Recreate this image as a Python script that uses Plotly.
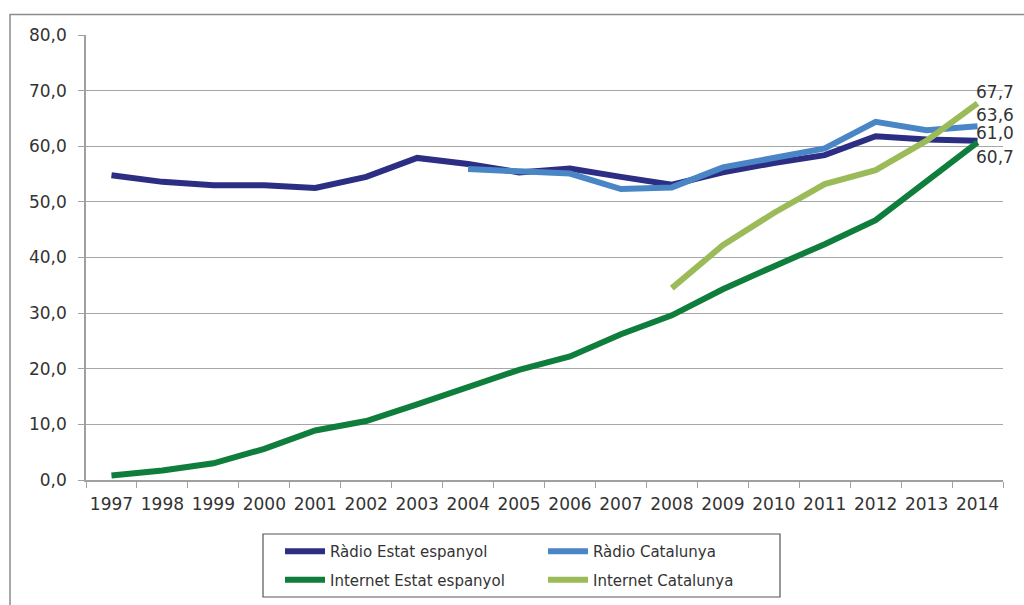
import plotly.graph_objects as go

years = [str(y) for y in range(1997, 2015)]

radio_estat = [54.8, 53.6, 53.0, 53.0, 52.5, 54.5, 57.9, 56.8, 55.3, 56.0, 54.5, 53.1, 55.3, 57.0, 58.4, 61.8, 61.2, 61.0]
radio_cat = [None, None, None, None, None, None, None, 55.9, 55.4, 55.1, 52.3, 52.6, 56.2, 57.8, 59.6, 64.4, 62.9, 63.6]
internet_estat = [0.8, 1.7, 3.0, 5.6, 8.9, 10.6, 13.6, 16.8, 19.8, 22.2, 26.2, 29.6, 34.3, 38.4, 42.4, 46.7, 53.8, 60.7]
internet_cat = [None, None, None, None, None, None, None, None, None, None, None, 34.5, 42.2, 48.0, 53.2, 55.7, 61.0, 67.7]

series_names = ["Ràdio Estat espanyol", "Ràdio Catalunya", "Internet Estat espanyol", "Internet Catalunya"]
series_values = [radio_estat, radio_cat, internet_estat, internet_cat]
colors = ["#2B2E83", "#4A86C5", "#0F7D3B", "#9BBB59"]
legend_ids = ["legend", "legend2", "legend", "legend2"]
label_shift = [8, 11, -15, 11]

W, H = 1024, 605
L, R, T, B = 86, 21, 35, 125
PW, PH = W - L - R, H - T - B

def px_x(px):
    return (px - L) / PW

def px_y(py):
    return (H - B - py) / PH

fig = go.Figure()
for i, (name, vals, col, lg) in enumerate(zip(series_names, series_values, colors, legend_ids)):
    fig.add_trace(go.Scatter(
        x=years, y=vals, name=name, mode="lines",
        line=dict(color=col, width=6), legend=lg,
        legendgroup=name, connectgaps=False,
        hoverinfo="x+y+name",
    ))

font_col = "#333333"
annotations = []
last_idx = len(years) - 1
for vals, sh in zip(series_values, label_shift):
    v = vals[-1]
    annotations.append(dict(
        x=last_idx, y=v, xref="x", yref="y",
        text=f"{v:.1f}".replace(".", ","), showarrow=False,
        xanchor="left", yanchor="middle", xshift=-4, yshift=sh,
        font=dict(family="DejaVu Sans", size=17, color=font_col),
    ))

shapes = [
    # outer chart border (top and left visible)
    dict(type="rect", xref="paper", yref="paper",
         x0=px_x(10), x1=px_x(1040), y0=px_y(620), y1=px_y(14.5),
         line=dict(color="#8C8C8C", width=1.5), layer="below"),
    # legend box
    dict(type="rect", xref="paper", yref="paper",
         x0=px_x(263), x1=px_x(780), y0=px_y(597), y1=px_y(534),
         line=dict(color="#555555", width=1.2), layer="below"),
]

legend_common = dict(
    orientation="v", xanchor="left", yanchor="top",
    bgcolor="rgba(0,0,0,0)", borderwidth=0,
    font=dict(family="DejaVu Sans", size=15, color=font_col),
    itemwidth=40, tracegroupgap=6,
)

fig.update_layout(
    width=W, height=H,
    margin=dict(l=L, r=R, t=T, b=B, pad=0, autoexpand=False),
    paper_bgcolor="white", plot_bgcolor="white",
    separators=",.",
    showlegend=True,
    legend=dict(x=px_x(280), y=px_y(535), **legend_common),
    legend2=dict(x=px_x(543), y=px_y(535), **legend_common),
    annotations=annotations,
    shapes=shapes,
    font=dict(family="DejaVu Sans", size=17, color=font_col),
    xaxis=dict(
        type="category", range=[-0.5, len(years) - 0.5],
        tickson="boundaries", ticks="outside", ticklen=6, tickcolor="#A0A0A0",
        showline=True, linecolor="#A0A0A0", linewidth=1.5,
        showgrid=False, zeroline=False, ticklabelstandoff=8,
        tickangle=0, automargin=False,
        tickfont=dict(family="DejaVu Sans", size=17, color=font_col),
    ),
    yaxis=dict(
        range=[0, 80], dtick=10, tickformat=".1f",
        ticks="outside", ticklen=6, tickcolor="#A0A0A0",
        showline=True, linecolor="#A0A0A0", linewidth=1.5,
        showgrid=True, gridcolor="#A6A6A6", gridwidth=1.2,
        zeroline=False, ticklabelstandoff=8, automargin=False,
        tickfont=dict(family="DejaVu Sans", size=17, color=font_col),
    ),
)

fig.write_html("out.html")
